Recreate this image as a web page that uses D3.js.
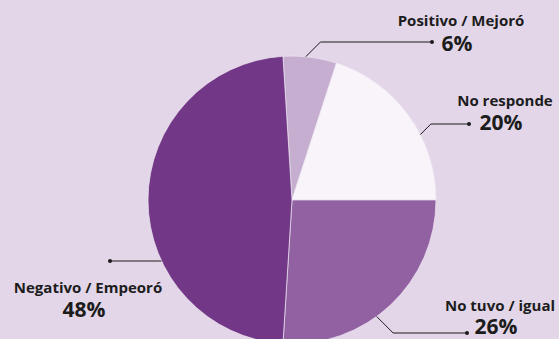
<!DOCTYPE html>
<html>
<head>
<meta charset="utf-8">
<script src="https://cdn.jsdelivr.net/npm/d3@7"></script>
<style>
  html, body { margin: 0; padding: 0; background: #e2d6e8; }
  svg { display: block; }
  text { font-family: "Open Sans", Lato, sans-serif; font-weight: 700; fill: #1c1c1c; }
</style>
</head>
<body>
<svg id="chart" width="559" height="339"></svg>
<script>
// ---- data ----
const categories = ["Positivo / Mejoró", "No responde", "No tuvo / igual", "Negativo / Empeoró"];
const values = [6, 20, 26, 48];
const valueLabels = ["6%", "20%", "26%", "48%"];
const colors = ["#c5aed0", "#f9f4fa", "#9161a1", "#723887"];

// ---- label layout (annotation placement) ----
const anchorAngles = [5.5, 63, 144, 245];       // degrees, where the leader leaves the pie
const dotX = [432, 469, 467, 110];
const dotY = [42, 124, 333, 261];
const labelX = [461, 505, 500, 88];
const labelY = [26, 105.5, 311, 292.5];

const W = 559, H = 339;
const cx = 292, cy = 200, R = 144;
const svg = d3.select("#chart");

const startDeg = -3.6;
const pie = d3.pie().sort(null).value(d => d)
  .startAngle(startDeg * Math.PI / 180)
  .endAngle((startDeg + 360) * Math.PI / 180);
const arc = d3.arc().innerRadius(0).outerRadius(R);

const g = svg.append("g").attr("transform", `translate(${cx},${cy})`);
g.selectAll("path").data(pie(values)).join("path")
  .attr("d", arc)
  .attr("fill", (d, i) => colors[i])
  .attr("stroke", "#efe6f2")
  .attr("stroke-width", 0.7);

// leader lines
categories.forEach((c, i) => {
  const a = anchorAngles[i] * Math.PI / 180;
  const sx = cx + R * Math.sin(a), sy = cy - R * Math.cos(a);
  const ex = dotX[i], ey = dotY[i];
  const dy = ey - sy;
  const dir = ex > sx ? 1 : -1;
  const kx = sx + dir * Math.abs(dy);
  const pts = [[sx, sy], [kx, ey], [ex, ey]];
  svg.append("path")
    .attr("d", d3.line()(pts))
    .attr("fill", "none")
    .attr("stroke", "#1c1c1c")
    .attr("stroke-width", 1);
  svg.append("circle").attr("cx", ex).attr("cy", ey).attr("r", 2).attr("fill", "#1c1c1c");
  svg.append("text")
    .attr("x", labelX[i]).attr("y", labelY[i])
    .attr("text-anchor", "middle")
    .style("font-size", "15px")
    .text(c);
  svg.append("text")
    .attr("x", labelX[i] - 4).attr("y", Math.min(labelY[i] + 24.5, 334))
    .attr("text-anchor", "middle")
    .style("font-size", "21px")
    .text(valueLabels[i]);
});
</script>
</body>
</html>
